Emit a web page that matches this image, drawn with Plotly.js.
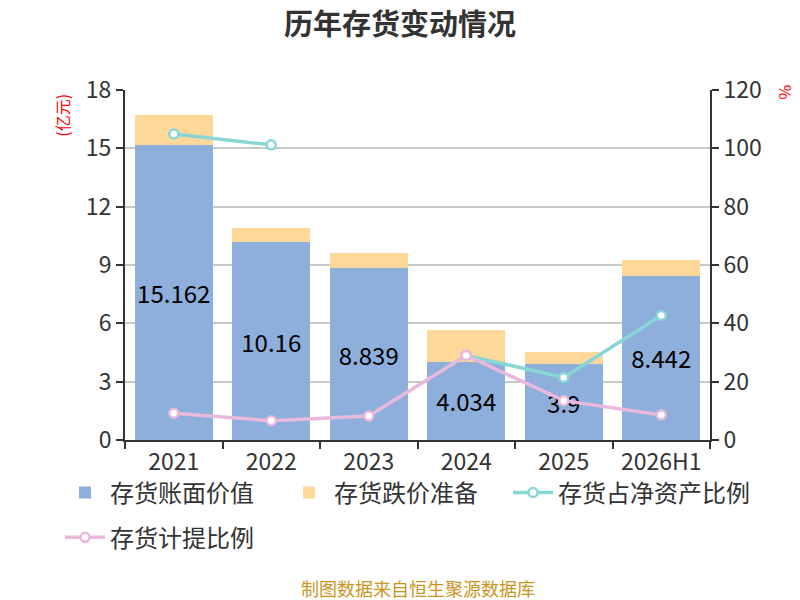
<!DOCTYPE html>
<html>
<head>
<meta charset="utf-8">
<script src="https://cdn.plot.ly/plotly-3.0.1.min.js"></script>
<style>html,body{margin:0;padding:0;background:#fff;}#chart{width:800px;height:600px;}</style>
</head>
<body>
<div id="chart"></div>
<script>
var categories = ['2021', '2022', '2023', '2024', '2025', '2026H1'];
var bookValue = [15.162, 10.16, 8.839, 4.034, 3.9, 8.442];
var provision = [1.56, 0.73, 0.80, 1.64, 0.63, 0.82];
var inventoryToNetAssets = [104.9, 101.2, null, 29.0, 21.4, 42.7];
var provisionRatio = [9.2, 6.6, 8.2, 29.0, 13.5, 8.6];
var seriesNames = ['存货账面价值', '存货跌价准备', '存货占净资产比例', '存货计提比例'];
var leftTicks = [0, 3, 6, 9, 12, 15, 18];
var rightTicks = [0, 20, 40, 60, 80, 100, 120];

var font = "'Noto Sans CJK SC', 'Noto Sans', sans-serif";

var traces = [
  {
    type: 'bar', name: seriesNames[0], x: categories, y: bookValue,
    marker: {color: '#8eaedb'},
    text: bookValue.map(String), textposition: 'inside', insidetextanchor: 'middle', textangle: 0,
    constraintext: 'none', textfont: {size: 24, color: '#000', family: font},
    hoverinfo: 'x+y', legend: 'legend'
  },
  {
    type: 'bar', name: seriesNames[1], x: categories, y: provision,
    marker: {color: '#fed898'}, hoverinfo: 'x+y', legend: 'legend'
  },
  {
    type: 'scatter', mode: 'lines+markers', name: seriesNames[2], x: categories, y: inventoryToNetAssets,
    yaxis: 'y2', connectgaps: false, legend: 'legend3',
    line: {color: '#88d6d6', width: 3.5},
    marker: {size: 9, color: '#fff', line: {color: '#88d6d6', width: 2.5}}
  },
  {
    type: 'scatter', mode: 'lines+markers', name: seriesNames[3], x: categories, y: provisionRatio,
    yaxis: 'y2', legend: 'legend2',
    line: {color: '#e8b9dc', width: 3.5},
    marker: {size: 9, color: '#fff', line: {color: '#e8b9dc', width: 2.5}}
  }
];

var legendStyle = function (x, y, ew) {
  return {
    orientation: 'h', x: x, xanchor: 'left', y: y, yanchor: 'top',
    font: {size: 24, color: '#333'}, traceorder: 'normal', itemwidth: 40,
    entrywidth: ew, entrywidthmode: 'pixels', bgcolor: 'rgba(0,0,0,0)'
  };
};

var layout = {
  width: 800, height: 600,
  margin: {l: 125, r: 90, t: 90, b: 160},
  paper_bgcolor: '#fff', plot_bgcolor: '#fff',
  font: {family: font, color: '#333'},
  barmode: 'stack', bargap: 0.2,
  showlegend: true,
  title: {text: '<b>历年存货变动情况</b>', x: 0.5, xanchor: 'center', y: 0.958, yanchor: 'middle',
          font: {size: 29, color: '#333', family: font}},
  xaxis: {
    type: 'category', showgrid: false, showline: true, linecolor: '#333', linewidth: 2,
    ticks: 'outside', tickson: 'boundaries', ticklen: 7, tickwidth: 2, tickcolor: '#333',
    tickfont: {size: 23, color: '#333'}, fixedrange: true
  },
  yaxis: {
    range: [0, 18], tickvals: leftTicks, showgrid: true, gridcolor: '#c8c8c8', gridwidth: 1.5,
    showline: true, linecolor: '#333', linewidth: 2, ticks: 'outside', ticklen: 7, tickwidth: 2, tickcolor: '#333',
    tickfont: {size: 23, color: '#333'}, zeroline: false
  },
  yaxis2: {
    range: [0, 120], tickvals: rightTicks, overlaying: 'y', side: 'right', showgrid: false,
    showline: true, linecolor: '#333', linewidth: 2, ticks: 'outside', ticklen: 7, tickwidth: 2, tickcolor: '#333',
    tickfont: {size: 23, color: '#333'}, zeroline: false
  },
  legend: legendStyle(-0.111, -0.087, 169),
  legend3: legendStyle(0.6547, -0.087, 0),
  legend2: legendStyle(-0.111, -0.215, 0),
  annotations: [
    {text: '(亿元)', xref: 'paper', yref: 'paper', x: -0.108, y: 0.929, showarrow: false,
     textangle: -90, font: {size: 16, color: '#ff0000'}, xanchor: 'center', yanchor: 'middle'},
    {text: '%', xref: 'paper', yref: 'paper', x: 1.13, y: 0.995, showarrow: false,
     textangle: 90, font: {size: 16, color: '#ff0000'}, xanchor: 'center', yanchor: 'middle'},
    {text: '制图数据来自恒生聚源数据库', xref: 'paper', yref: 'paper', x: 0.5, y: -0.423, showarrow: false,
     font: {size: 18, color: '#c8961e'}, xanchor: 'center', yanchor: 'middle'}
  ]
};

Plotly.newPlot('chart', traces, layout, {displayModeBar: false, staticPlot: false});
</script>
</body>
</html>
